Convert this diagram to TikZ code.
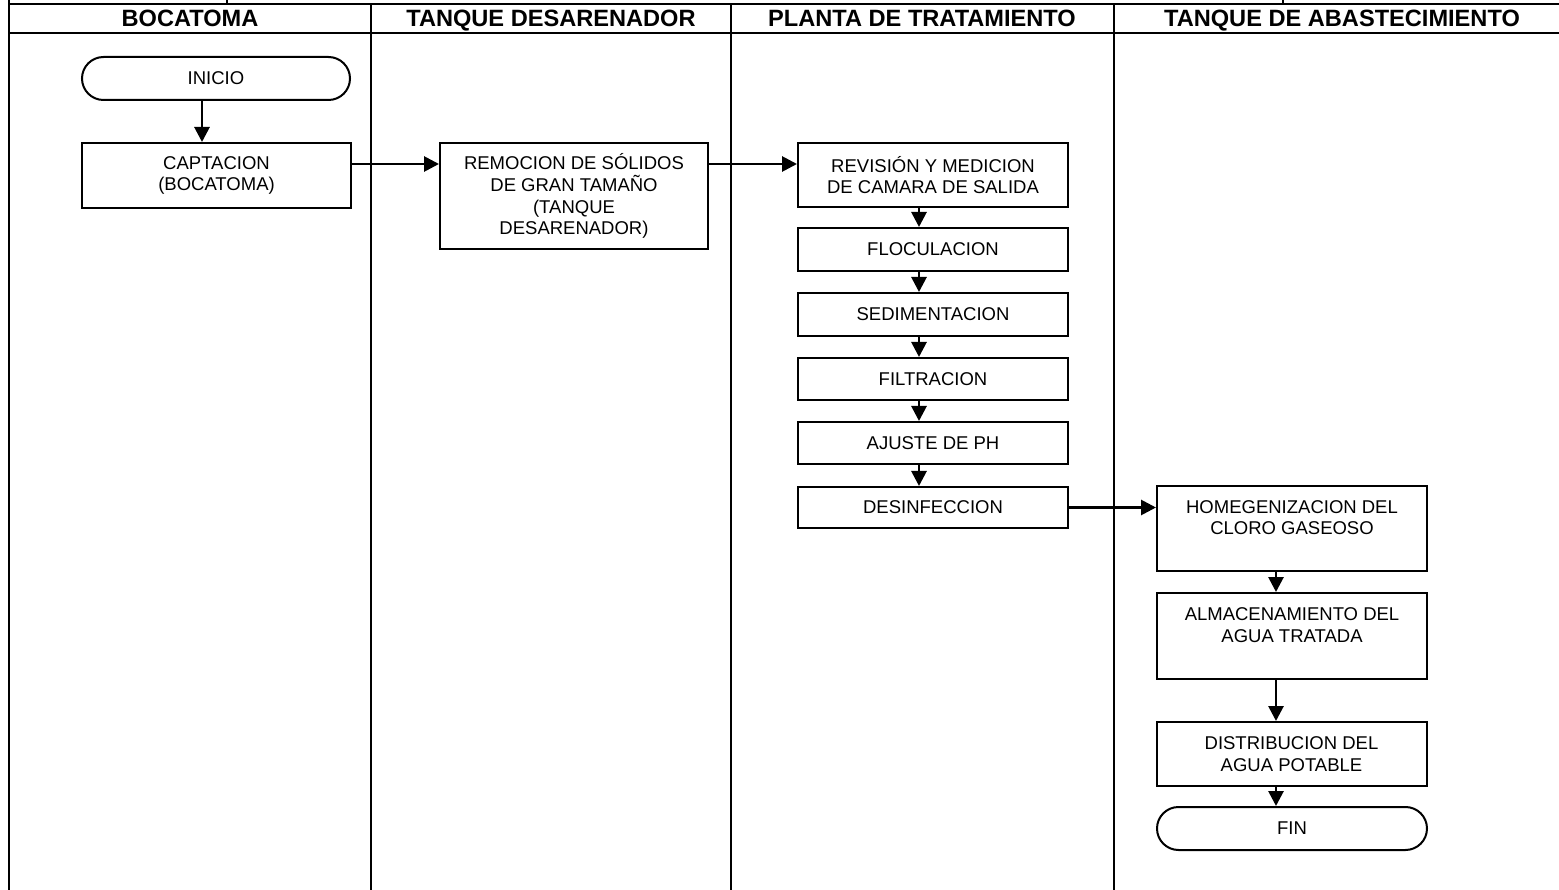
\documentclass[tikz,border=0pt]{standalone}
\usepackage{fontspec}
\setmainfont{Liberation Sans}
\usetikzlibrary{arrows.meta,shapes.misc}
\begin{document}
\begin{tikzpicture}[x=1pt,y=-1pt,
  tbl/.style={line width=2.6pt},
  box/.style={draw,line width=2pt,rectangle,inner sep=0pt,align=center,
    font=\fontsize{18.5}{21.8}\selectfont},
  term/.style={draw,line width=2pt,rounded rectangle,inner sep=0pt,align=center,
    font=\fontsize{18.5}{21.8}\selectfont},
  head/.style={inner sep=0pt,anchor=base,font=\fontsize{23.6}{28}\selectfont\bfseries},
  arr/.style={line width=2.8pt,-{Triangle[length=15pt,width=15pt]}}]
\useasboundingbox (0,0) rectangle (1559,890);
% table
\draw[tbl] (9,0) -- (9,890);
\draw[tbl] (227,0) -- (227,4);
\draw[tbl] (1283,0) -- (1283,4);
\draw[tbl] (8,4) -- (1559,4);
\draw[tbl] (8,33) -- (1559,33);
\draw[tbl] (371,4) -- (371,890);
\draw[tbl] (731,4) -- (731,890);
\draw[tbl] (1114,4) -- (1114,890);
\node[head] (h1) at (190,27) {BOCATOMA};
\node[head] (h2) at (551,27) {TANQUE DESARENADOR};
\node[head] (h3) at (922,27) {PLANTA DE TRATAMIENTO};
\node[head] (h4) at (1342,27) {TANQUE DE ABASTECIMIENTO};
% nodes
\node[term,minimum width=268pt,minimum height=43pt] (ini) at (216,78.5) {\raisebox{-3pt}{INICIO}};
\node[box,minimum width=269pt,minimum height=65pt] (capt) at (216.5,175.5) {CAPTACION\\(BOCATOMA)};
\node[box,minimum width=268pt,minimum height=106pt] (remo) at (574,196) {REMOCION DE SÓLIDOS\\DE GRAN TAMAÑO\\(TANQUE\\DESARENADOR)};
\node[box,minimum width=270pt,minimum height=64pt] (revi) at (933,175) {REVISIÓN Y MEDICION\\DE CAMARA DE SALIDA};
\node[box,minimum width=270pt,minimum height=43pt] (floc) at (933,249.5) {FLOCULACION};
\node[box,minimum width=270pt,minimum height=43pt] (sedi) at (933,314.5) {SEDIMENTACION};
\node[box,minimum width=270pt,minimum height=42pt] (filt) at (933,379) {FILTRACION};
\node[box,minimum width=270pt,minimum height=42pt] (ajus) at (933,443) {AJUSTE DE PH};
\node[box,minimum width=270pt,minimum height=41pt] (desi) at (933,507.5) {DESINFECCION};
\node[box,minimum width=270pt,minimum height=85pt] (homo) at (1292,528.5) {HOMEGENIZACION DEL\\CLORO GASEOSO\\\mbox{}};
\node[box,minimum width=270pt,minimum height=86pt] (alma) at (1292,636) {ALMACENAMIENTO DEL\\AGUA TRATADA\\\mbox{}};
\node[box,minimum width=270pt,minimum height=64pt] (dist) at (1291.5,754) {DISTRIBUCION DEL\\AGUA POTABLE};
\node[term,minimum width=270pt,minimum height=43pt] (fin) at (1292,828.5) {\raisebox{-3pt}{FIN}};
% connectors
\draw[arr] ([xshift=-14pt]ini.south) -- ([xshift=-14pt]ini.south |- capt.north);
\draw[arr] ([yshift=11.5pt]capt.east) -- ([yshift=11.5pt]capt.east -| remo.west);
\draw[arr] ([yshift=32pt]remo.east) -- ([yshift=32pt]remo.east -| revi.west);
\draw[arr] ([xshift=-14pt]revi.south) -- ([xshift=-14pt]floc.north);
\draw[arr] ([xshift=-14pt]floc.south) -- ([xshift=-14pt]sedi.north);
\draw[arr] ([xshift=-14pt]sedi.south) -- ([xshift=-14pt]filt.north);
\draw[arr] ([xshift=-14pt]filt.south) -- ([xshift=-14pt]ajus.north);
\draw[arr] ([xshift=-14pt]ajus.south) -- ([xshift=-14pt]desi.north);
\draw[arr] (desi.east) -- (desi.east -| homo.west);
\draw[arr] ([xshift=-16pt]homo.south) -- ([xshift=-16pt]alma.north);
\draw[arr] ([xshift=-16pt]alma.south) -- ([xshift=-16pt]alma.south |- dist.north);
\draw[arr] ([xshift=-15.5pt]dist.south) -- ([xshift=-15.5pt]dist.south |- fin.north);
\end{tikzpicture}
\end{document}
